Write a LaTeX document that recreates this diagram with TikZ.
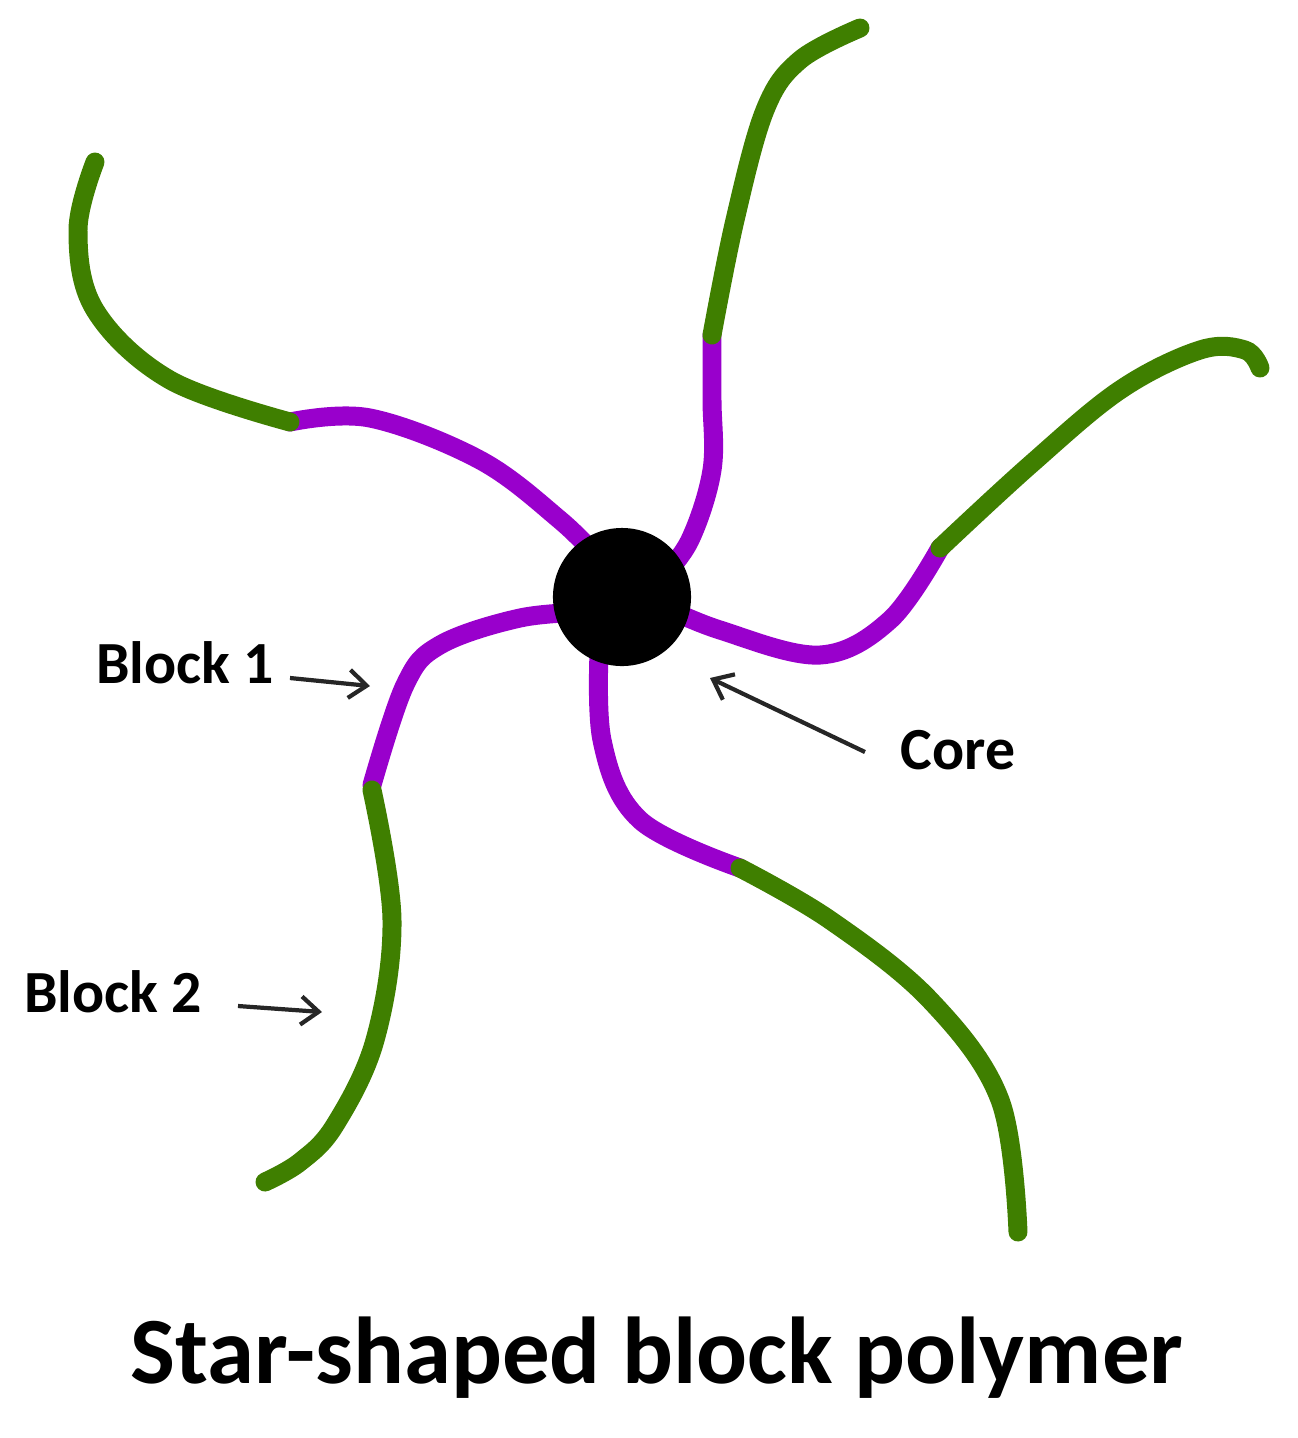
\documentclass[tikz,border=0pt]{standalone}
\usepackage{fontspec}
\setmainfont{Carlito}
\usetikzlibrary{arrows.meta}
\definecolor{gr}{HTML}{3F7F00}
\definecolor{pu}{HTML}{9900CC}
\begin{document}
\begin{tikzpicture}[x=0.01cm,y=-0.01cm,
  b1/.style={pu,line width=5.4pt,line cap=round},
  b2/.style={gr,line width=5.4pt,line cap=round},
  lab/.style={font=\bfseries\fontsize{17}{19}\selectfont},
  arr/.style={-{Straight Barb[length=5pt,width=8pt]},line width=1.2pt,black!85}]
\useasboundingbox (0,0) rectangle (1298,1438);
% arm 1 upper-left
\draw[b1] plot[smooth,tension=0.6] coordinates {(600,560) (560,520) (480,460) (370,418) (290,422)};
\draw[b2] plot[smooth,tension=0.6] coordinates {(290,422) (170,380) (95,310) (78,230) (95,162)};
% arm 2 top
\draw[b1] plot[smooth,tension=0.6] coordinates {(660,580) (690,540) (712,470) (712,400) (712,335)};
\draw[b2] plot[smooth,tension=0.6] coordinates {(712,335) (735,220) (765,110) (800,60) (860,28)};
% arm 3 right
\draw[b1] plot[smooth,tension=0.6] coordinates {(660,605) (720,630) (820,655) (890,620) (940,548)};
\draw[b2] plot[smooth,tension=0.6] coordinates {(940,548) (1030,465) (1120,390) (1200,350) (1245,350) (1260,368)};
% arm 4 bottom
\draw[b1] plot[smooth,tension=0.6] coordinates {(600,630) (602,740) (640,820) (740,868)};
\draw[b2] plot[smooth,tension=0.6] coordinates {(740,868) (830,920) (930,1000) (1000,1100) (1018,1232)};
% arm 5 lower-left
\draw[b1] plot[smooth,tension=0.6] coordinates {(590,612) (520,618) (440,645) (405,685) (372,785)};
\draw[b2] plot[smooth,tension=0.6] coordinates {(372,790) (392,920) (375,1040) (335,1125) (300,1162) (265,1182)};
% core
\node[circle,fill=black,minimum size=1.38cm,inner sep=0] (core) at (622,597) {};
% labels
\node[lab] (l1) at (185,663) {Block 1};
\node[lab] (l2) at (113,992) {Block 2};
\node[lab] (lc) at (958,750) {Core};
\coordinate (a1) at (370,686);
\coordinate (a2) at (322,1012);
\coordinate (ac) at (710,678);
\draw[arr] (290,678) -- (a1);
\draw[arr] (238,1006) -- (a2);
\draw[arr] (865,752) -- (ac);
\node[font=\bfseries\fontsize{27}{30}\selectfont] (title) at (657,1358) {Star-shaped block polymer};
\end{tikzpicture}
\end{document}
